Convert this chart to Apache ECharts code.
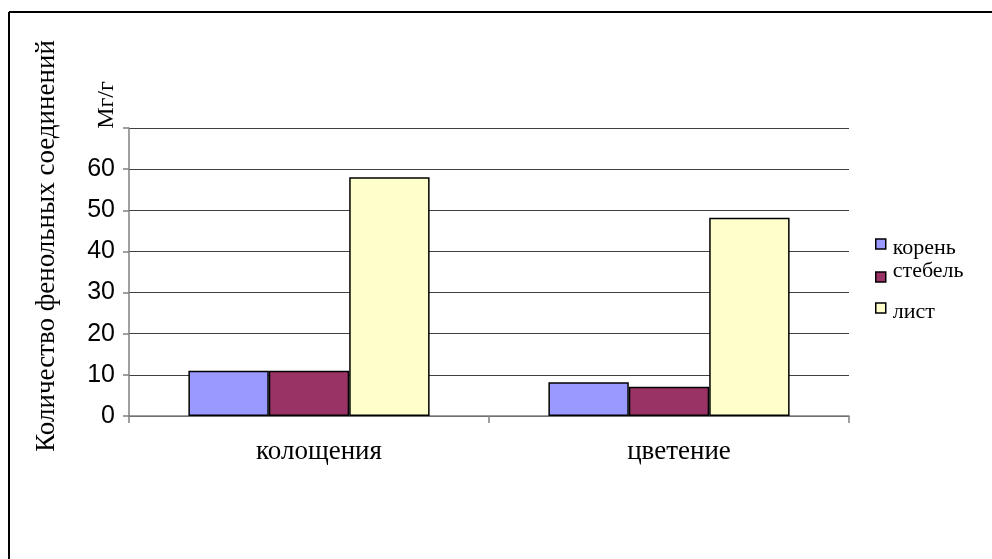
<!DOCTYPE html>
<html>
<head>
<meta charset="utf-8">
<script src="https://cdn.jsdelivr.net/npm/echarts@6/dist/echarts.min.js"></script>
<style>
  html, body { margin: 0; padding: 0; background: #fff; }
  #chart { width: 992px; height: 559px; }
</style>
</head>
<body>
<div id="chart"></div>
<script>
// Phenolic compound content by plant part and growth phase
const categories = ['колощения', 'цветение'];
const seriesNames = ['корень', 'стебель', 'лист'];
const rootValues = [11, 8.2];
const stemValues = [11, 7.1];
const leafValues = [58, 48.2];
const yTicks = [0, 10, 20, 30, 40, 50, 60, 70];

const colors = ['#9999FF', '#993366', '#FFFFCC'];
const serif = '"Liberation Serif", "Times New Roman", serif';
const sans = '"Liberation Sans", Arial, sans-serif';

const chart = echarts.init(document.getElementById('chart'), null, { renderer: 'canvas' });

// one legend block per entry so each row can sit at its own height;
// the rich-text padding nudges the label up or down against its swatch
function legendFor(name, top, textPadding) {
  return {
    data: [name],
    left: 875,
    top: top,
    icon: 'rect',
    itemWidth: 10,
    itemHeight: 10,
    itemGap: 0,
    padding: 0,
    itemStyle: { borderColor: '#000', borderWidth: 1.5 },
    formatter: function (n) { return '{t|' + n + '}'; },
    textStyle: {
      rich: {
        t: { fontFamily: serif, fontSize: 22, lineHeight: 22, color: '#000', padding: textPadding }
      }
    }
  };
}

const option = {
  backgroundColor: '#fff',
  animation: false,
  grid: { left: 129, right: 143, top: 128, bottom: 143 },
  legend: [
    legendFor(seriesNames[0], 229, [8, 0, 0, 2]),
    legendFor(seriesNames[1], 260, [0, 0, 12, 2]),
    legendFor(seriesNames[2], 293, [8, 0, 0, 2])
  ],
  xAxis: {
    type: 'category',
    data: categories,
    axisLine: { lineStyle: { color: '#808080', width: 1.5 } },
    axisTick: { show: true, length: 7, lineStyle: { color: '#808080', width: 1.5 } },
    axisLabel: {
      margin: 22,
      fontFamily: serif,
      fontSize: 27,
      color: '#000',
      padding: [0, 0, 0, 20]
    }
  },
  yAxis: {
    type: 'value',
    min: yTicks[0],
    max: yTicks[yTicks.length - 1],
    interval: 10,
    axisLine: { show: true, lineStyle: { color: '#808080', width: 1.5 } },
    axisTick: { show: true, length: 6, lineStyle: { color: '#808080', width: 1.5 } },
    splitLine: { show: true, lineStyle: { color: '#404040', width: 1 } },
    axisLabel: {
      margin: 14,
      fontFamily: sans,
      fontSize: 25,
      color: '#000',
      formatter: function (v) { return v === yTicks[yTicks.length - 1] ? '' : String(v); }
    }
  },
  graphic: [
    { type: 'line', shape: { x1: 9, y1: 12, x2: 992, y2: 12 }, style: { stroke: '#000', lineWidth: 2 } },
    { type: 'line', shape: { x1: 9, y1: 12, x2: 9, y2: 559 }, style: { stroke: '#000', lineWidth: 2 } },
    {
      type: 'text', x: 47, y: 246, rotation: Math.PI / 2,
      style: { text: 'Количество фенольных соединений', font: '27px ' + serif, fill: '#000', align: 'center', verticalAlign: 'middle' }
    },
    {
      type: 'text', x: 107, y: 105, rotation: Math.PI / 2,
      style: { text: 'Мг/г', font: '24px ' + serif, fill: '#000', align: 'center', verticalAlign: 'middle' }
    }
  ],
  series: [
    { name: seriesNames[0], data: rootValues },
    { name: seriesNames[1], data: stemValues },
    { name: seriesNames[2], data: leafValues }
  ].map(function (s, i) {
    return {
      type: 'bar',
      name: s.name,
      data: s.data,
      barWidth: 80.4,
      barGap: '0%',
      itemStyle: { color: colors[i], borderColor: '#000', borderWidth: 1.5 }
    };
  })
};

chart.setOption(option);
</script>
</body>
</html>
